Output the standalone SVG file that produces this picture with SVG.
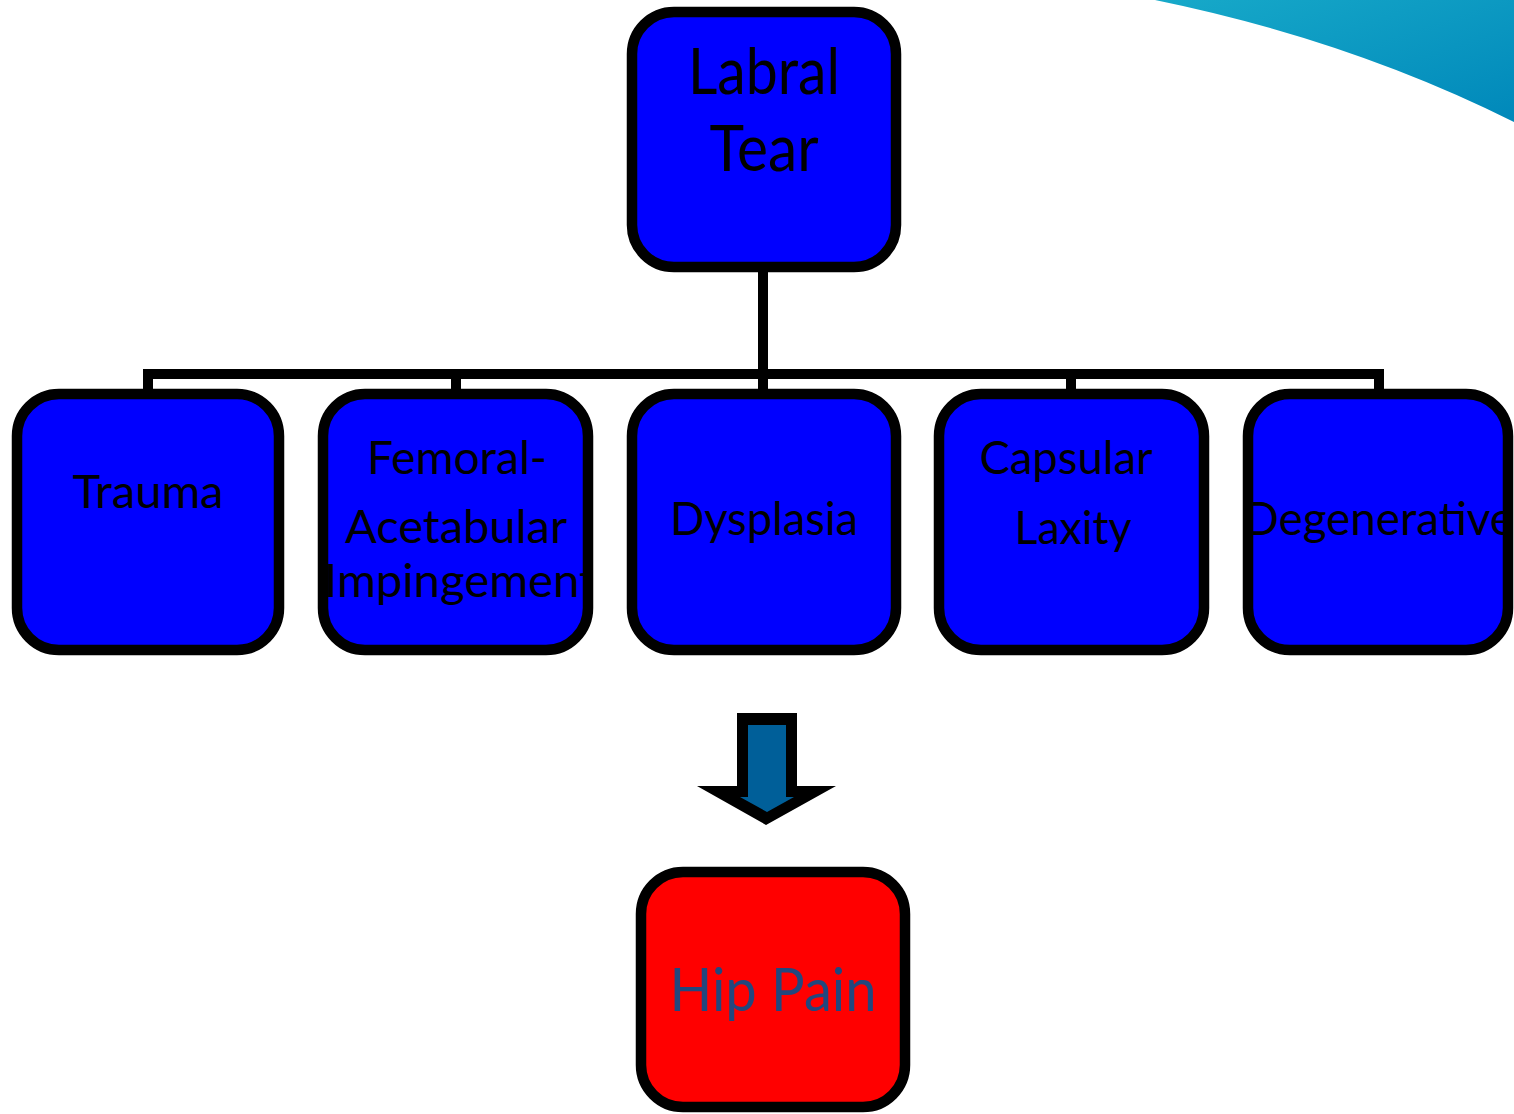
<svg xmlns="http://www.w3.org/2000/svg" width="1514" height="1114" viewBox="0 0 1514 1114">
  <defs>
    <style>
      .box { fill: #0000FF; stroke: #000000; stroke-width: 10.5; }
      .red { fill: #FF0000; stroke: #000000; stroke-width: 10.5; }
      .lbl { font-family: Lato, "Open Sans", "Liberation Sans", sans-serif; fill: #000000; text-anchor: middle; }
      .big { font-size: 64px; }
      .mid { font-size: 47px; }
      .hip { font-size: 60px; fill: #22477E; }
      .conn { fill: none; stroke: #000000; stroke-width: 10; stroke-linejoin: miter; }
    </style>
    <linearGradient id="swoosh" x1="0" y1="0" x2="1" y2="1">
      <stop offset="0" stop-color="#17A9C9"/>
      <stop offset="1" stop-color="#0088BA"/>
    </linearGradient>
    <clipPath id="clipFem"><rect x="318" y="389" width="275" height="266"/></clipPath>
    <clipPath id="clipDeg"><rect x="1243" y="389" width="271" height="266"/></clipPath>
  </defs>

  <rect x="0" y="0" width="1514" height="1114" fill="#FFFFFF"/>
  <path d="M1155,0 Q1350,40 1514,122 L1514,0 Z" fill="url(#swoosh)"/>

  <g id="connectors">
    <path class="conn" d="M763,267 V374 M148,394 V374 H1379 V394 M456,374 V394 M1071,374 V394 M763,374 V394"/>
  </g>

  <g id="labral-tear">
    <rect class="box" x="632" y="12" width="264" height="255" rx="42"/>
    <text class="lbl big" x="764" y="94" textLength="152" lengthAdjust="spacingAndGlyphs">Labral</text>
    <text class="lbl big" x="764" y="171" textLength="109" lengthAdjust="spacingAndGlyphs">Tear</text>
  </g>

  <g id="trauma">
    <rect class="box" x="17" y="394" width="262" height="256" rx="42"/>
    <text class="lbl mid" x="148" y="508" textLength="151" lengthAdjust="spacingAndGlyphs">Trauma</text>
  </g>

  <g id="fai">
    <rect class="box" x="323" y="394" width="265" height="256" rx="42"/>
    <g clip-path="url(#clipFem)">
      <text class="lbl mid" x="457" y="474" textLength="180" lengthAdjust="spacingAndGlyphs">Femoral-</text>
      <text class="lbl mid" x="456" y="543" textLength="222" lengthAdjust="spacingAndGlyphs">Acetabular</text>
      <text class="lbl mid" x="460" y="597" textLength="272" lengthAdjust="spacingAndGlyphs">Impingement</text>
    </g>
  </g>

  <g id="dysplasia">
    <rect class="box" x="632" y="394" width="264" height="256" rx="42"/>
    <text class="lbl mid" x="764" y="535" textLength="188" lengthAdjust="spacingAndGlyphs">Dysplasia</text>
  </g>

  <g id="capsular-laxity">
    <rect class="box" x="939" y="394" width="265" height="256" rx="42"/>
    <text class="lbl mid" x="1066" y="474" textLength="173" lengthAdjust="spacingAndGlyphs">Capsular</text>
    <text class="lbl mid" x="1073" y="544" textLength="117" lengthAdjust="spacingAndGlyphs">Laxity</text>
  </g>

  <g id="degenerative">
    <rect class="box" x="1248" y="394" width="260" height="256" rx="42"/>
    <g clip-path="url(#clipDeg)">
      <text class="lbl mid" x="1379" y="535" textLength="270" lengthAdjust="spacingAndGlyphs">Degenerative</text>
    </g>
  </g>

  <g id="arrow">
    <polygon points="737,713 797,713 797,786 836,786 766,825 697,786 737,786" fill="#000000"/>
    <polygon points="748,725 786,725 786,797 794,797 767,812 740,797 748,797" fill="#005F99"/>
  </g>

  <g id="hip-pain">
    <rect class="red" x="641" y="872" width="264" height="235" rx="42"/>
    <text class="lbl hip" x="773" y="1011" textLength="207" lengthAdjust="spacingAndGlyphs">Hip Pain</text>
  </g>
</svg>
